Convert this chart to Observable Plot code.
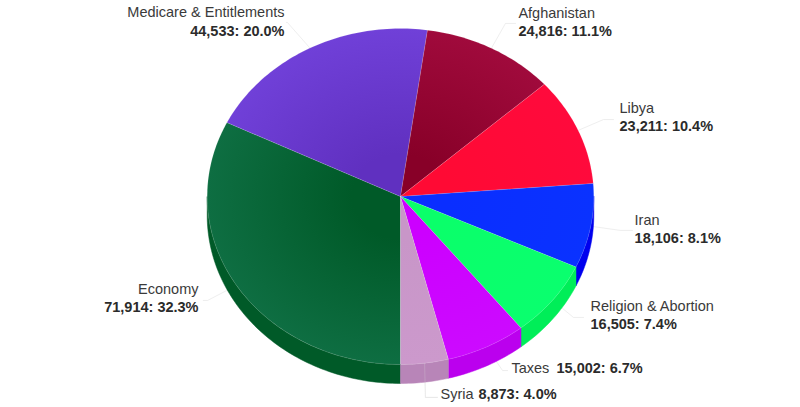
<!DOCTYPE html>
<html><head><meta charset="utf-8">
<style>html,body{margin:0;padding:0;background:#fff}svg{display:block}</style>
<script src="https://cdn.jsdelivr.net/npm/d3@7"></script>
<script src="https://cdn.jsdelivr.net/npm/@observablehq/plot@0.6"></script>
</head><body><div id="chart"></div>
<script>
// Data, clockwise from the bottom of the pie
const categories = ["Economy","Medicare & Entitlements","Afghanistan","Libya","Iran","Religion & Abortion","Taxes","Syria"];
const values = [71914,44533,24816,23211,18106,16505,15002,8873];
const percents = ["32.3%","20.0%","11.1%","10.4%","8.1%","7.4%","6.7%","4.0%"];
// Colours
const edgeColors = ["#0e6e42","#7040d8","#a00a3c","#ff0a3c","#0a32ff","#0aff6e","#cc0aff","#cc99cc"];
const coreColors = ["#005a28","#6030c0","#880028","#ff0a34","#0a2eff","#0aff6a","#cc00ff","#c896c8"];
const sideColors = ["#005a28","#5a28b8","#80001e","#e00030","#0000ee","#00ee58","#bb00ee","#b885b8"];
// Label layout, in pie radii from the centre
const labelX = [-1.045,-0.600,0.610,1.133,1.211,0.983,0.574,0.207];
const labelY = [-0.554,1.095,1.089,0.524,-0.143,-0.655,-1.024,-1.179];
const valueX = [-1.045,-0.600,0.610,1.133,1.211,0.983,0.807,0.403];
const valueY = [-0.661,0.982,0.982,0.417,-0.250,-0.762,-1.024,-1.179];
const labelAnchor = ["end","end","start","start","start","start","start","start"];
const elbowX = [-0.998,-0.585,0.543,1.050,1.138,0.895,0.528,0.129];
const elbowY = [-0.619,1.036,1.030,0.458,-0.202,-0.720,-1.036,-1.196];
const tailX = [-1.020,-0.590,0.595,1.102,1.200,0.947,0.554,0.191];
const depth = 0.113;

const total = d3.sum(values);
const fmt = d3.format(",");
const rad = d => d * Math.PI / 180;
let cursor = 180;
const slices = categories.map((name,i)=>{
  const a0 = cursor, a1 = cursor + values[i]/total*360;
  cursor = a1;
  return {name,i,a0,a1,mid:(a0+a1)/2,value:`${fmt(values[i])}: ${percents[i]}`,
    labelX:labelX[i],labelY:labelY[i],valueX:valueX[i],valueY:valueY[i],anchor:labelAnchor[i]};
});
const at = (a,r=1,dy=0)=>({x:r*Math.sin(rad(a)),y:r*Math.cos(rad(a))+dy});
const arc = (a0,a1,dy=0)=>{const n=Math.max(2,Math.ceil((a1-a0)/1.2));return d3.range(n+1).map(k=>at(a0+(a1-a0)*k/n,1,dy));};

const topFace = s=>[{x:0,y:0},...arc(s.a0,s.a1),{x:0,y:0}];
const sideFace = s=>{
  // the rim shows on the front half of the pie only
  const segs=[[90,270],[450,630]].map(([lo,hi])=>[Math.max(lo,s.a0),Math.min(hi,s.a1)]).filter(([a,b])=>b>a);
  return segs.map(([a,b])=>{const t=arc(a,b),bt=arc(a,b,-depth).reverse();return [...t,...bt,t[0]];});
};
const leaders = slices.map(s=>[at(s.mid),{x:elbowX[s.i],y:elbowY[s.i]},{x:tailX[s.i],y:elbowY[s.i]}]);

const gradients = (index,{x,y})=>{
  const defs=d3.create("svg:defs");
  const cx=x(0),cy=y(0),rx=x(1)-cx,ry=y(-1)-cy;
  slices.forEach(s=>{
    const g=defs.append("radialGradient").attr("id",`slice${s.i}`).attr("gradientUnits","userSpaceOnUse")
      .attr("cx",0).attr("cy",0).attr("r",1)
      .attr("gradientTransform",`translate(${cx},${cy}) scale(${rx},${ry})`);
    g.append("stop").attr("offset","0.25").attr("stop-color",coreColors[s.i]);
    g.append("stop").attr("offset","1").attr("stop-color",edgeColors[s.i]);
  });
  return defs.node();
};

const textStyle={fontFamily:"'Liberation Sans',Arial,sans-serif",fontSize:14.5,fill:"#3a3a3a",lineAnchor:"middle"};
const textMarks=["start","end"].flatMap(anchor=>{
  const rows=slices.filter(s=>s.anchor===anchor);
  return [
    Plot.text(rows,{x:"labelX",y:"labelY",text:"name",textAnchor:anchor,...textStyle}),
    Plot.text(rows,{x:"valueX",y:"valueY",text:"value",textAnchor:anchor,fontWeight:"bold",...textStyle,fill:"#2b2b2b"})
  ];
});

const chart=Plot.plot({
  width:800,height:407,
  marginTop:0,marginRight:0,marginBottom:0,marginLeft:0,
  x:{domain:[-1,1],range:[206.7,593.3],axis:null},
  y:{domain:[1,-1],range:[28,364],axis:null},
  marks:[
    gradients,
    ...leaders.map(l=>Plot.line(l,{x:"x",y:"y",stroke:"#dddddd",strokeWidth:1,strokeOpacity:0.5})),
    ...slices.flatMap(s=>sideFace(s).map(poly=>Plot.line(poly,{x:"x",y:"y",fill:sideColors[s.i],stroke:sideColors[s.i],strokeWidth:0.5}))),
    Plot.line(leaders[leaders.length-1],{x:"x",y:"y",stroke:"#dddddd",strokeWidth:1,strokeOpacity:0.25}),
    ...slices.map(s=>Plot.line(topFace(s),{x:"x",y:"y",fill:`url(#slice${s.i})`,stroke:"#ffffff",strokeOpacity:0.12,strokeWidth:1})),
    ...textMarks
  ]
});
document.getElementById("chart").appendChild(chart);
</script></body></html>
